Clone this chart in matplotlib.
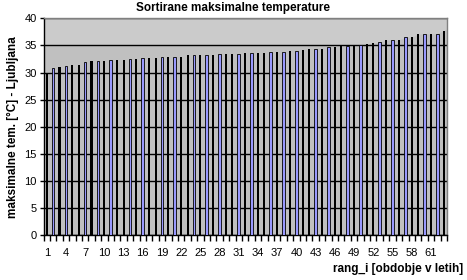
import numpy as np
import matplotlib
matplotlib.use("Agg")
import matplotlib.pyplot as plt

plt.rcParams["font.family"] = ["Liberation Sans", "DejaVu Sans"]

# sorted maximum temperatures, rank 1..63
rank = list(range(1, 64))
temps = [29.7, 30.8, 31.0, 31.2, 31.4, 31.4, 31.9, 32.1, 32.1, 32.1,
         32.3, 32.3, 32.3, 32.5, 32.5, 32.7, 32.7, 32.7, 32.9, 32.9,
         32.9, 32.9, 33.2, 33.2, 33.2, 33.2, 33.2, 33.4, 33.4, 33.4,
         33.4, 33.6, 33.6, 33.6, 33.6, 33.8, 33.8, 33.8, 34.0, 34.0,
         34.2, 34.4, 34.4, 34.4, 34.7, 34.7, 34.9, 34.9, 34.9, 35.0,
         35.3, 35.4, 35.6, 36.0, 36.0, 36.0, 36.5, 36.5, 37.1, 37.1,
         37.1, 37.2, 37.7]
# bars that show their light fill in the original rendering
light_bars = [2, 4, 7, 9, 11, 14, 16, 19, 21, 24, 26, 28, 31, 33, 36, 38,
              40, 43, 45, 48, 50, 53, 55, 57, 60, 62]
x_labels = list(range(1, 62, 3))
y_ticks = list(range(0, 41, 5))

fig = plt.figure(figsize=(4.67, 2.8), dpi=100)
ax = fig.add_axes([0.0932, 0.1596, 0.957 - 0.0932, 0.9346 - 0.1596])

ax.set_facecolor("#c0c0c0")
# lighter band above 35 that follows the tallest bars
xs = np.array([0.5] + rank + [63.5])
tops = np.maximum(np.array([temps[0]] + temps + [temps[-1] + 0.3]), 35)
ax.fill_between(xs, tops, 40, color="#cbcbcb", lw=0, zorder=0)

ax.set_axisbelow(True)
ax.yaxis.grid(True, color="black", lw=1.0)

dark = [t for r, t in zip(rank, temps) if r not in light_bars]
dark_x = [r for r in rank if r not in light_bars]
light = [t for r, t in zip(rank, temps) if r in light_bars]
ax.bar(dark_x, dark, width=0.33, color="black", lw=0, zorder=3)
ax.bar(light_bars, light, width=0.42, color="#9999ff", edgecolor="black",
       lw=0.6, zorder=3)

ax.set_xlim(0.5, 63.5)
ax.set_ylim(0, 40)
ax.set_yticks(y_ticks)
ax.set_xticks(x_labels)
ax.set_xticks(np.arange(0.5, 64, 1), minor=True)
ax.tick_params(axis="x", which="major", length=0, pad=9, labelsize=8)
ax.tick_params(axis="x", which="minor", length=4, width=1, direction="out")
ax.tick_params(axis="y", length=3, width=1, pad=2, labelsize=8)

for s in ["top", "right"]:
    ax.spines[s].set_color("#808080")
    ax.spines[s].set_linewidth(1)
for s in ["left", "bottom"]:
    ax.spines[s].set_color("black")
    ax.spines[s].set_linewidth(1)

fig.text(0.5, 0.972, "Sortirane maksimalne temperature", ha="center", va="center",
         fontsize=8.5, fontweight="bold")
fig.text(0.027, 0.547, "maksimalne tem. [°C] - Ljubljana", rotation=90,
         ha="center", va="center", fontsize=8.5, fontweight="bold")
fig.text(0.992, 0.038, "rang_i [obdobje v letih]", ha="right", va="center",
         fontsize=8.5, fontweight="bold")

fig.savefig("out.png", dpi=100)
